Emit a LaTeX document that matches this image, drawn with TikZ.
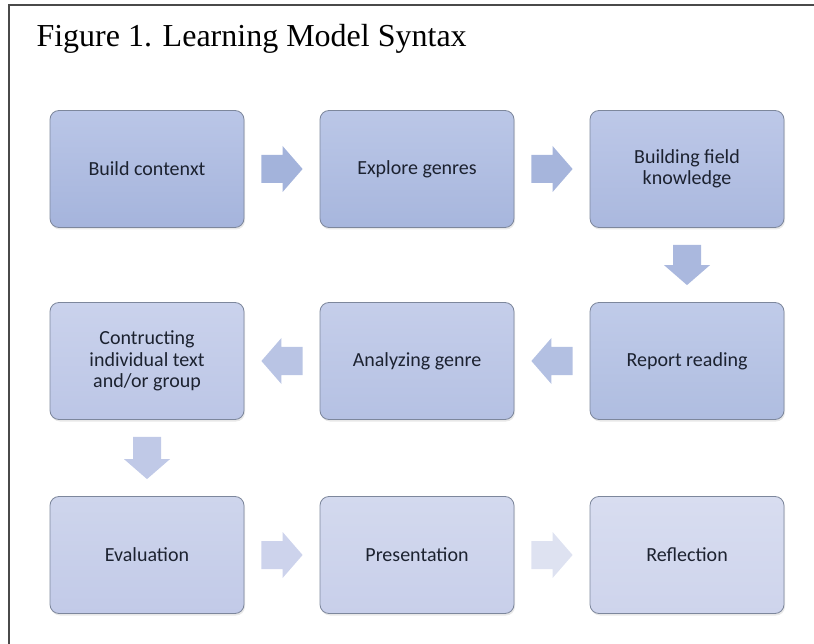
\documentclass[tikz,border=0pt]{standalone}
\usepackage{fontspec}
\setmainfont{Liberation Serif}
\newfontfamily\boxfont{Carlito}
\usetikzlibrary{calc,shadows}

\definecolor{boxedge}{HTML}{7D879C}
\definecolor{textcol}{HTML}{1C2230}
\definecolor{framecol}{HTML}{4A4A4A}
% nuantele cutiilor (sus / jos) si ale sagetilor
\definecolor{contextT}{HTML}{BAC6E7}\definecolor{contextB}{HTML}{A5B4DC}
\definecolor{exploreT}{HTML}{BBC7E7}\definecolor{exploreB}{HTML}{A7B6DD}
\definecolor{fieldT}{HTML}{BDC8E8}\definecolor{fieldB}{HTML}{AAB8DE}
\definecolor{reportT}{HTML}{C0CBE9}\definecolor{reportB}{HTML}{AFBDE0}
\definecolor{analyzeT}{HTML}{C5CEEA}\definecolor{analyzeB}{HTML}{B5C1E3}
\definecolor{constructT}{HTML}{CAD2EC}\definecolor{constructB}{HTML}{BCC6E6}
\definecolor{evaluateT}{HTML}{CED5EC}\definecolor{evaluateB}{HTML}{C2CAE8}
\definecolor{presentT}{HTML}{D3D9EE}\definecolor{presentB}{HTML}{C8CFEA}
\definecolor{reflectT}{HTML}{D8DDF0}\definecolor{reflectB}{HTML}{CED4EC}
\definecolor{arrowA}{HTML}{A3B3DB}
\definecolor{arrowB}{HTML}{A6B5DC}
\definecolor{arrowC}{HTML}{AAB8DE}
\definecolor{arrowD}{HTML}{B3C0E2}
\definecolor{arrowE}{HTML}{B9C4E4}
\definecolor{arrowF}{HTML}{C0C9E7}
\definecolor{arrowG}{HTML}{CDD3EC}
\definecolor{arrowH}{HTML}{DEE2F1}

\tikzset{
  stage/.style={draw=boxedge, line width=0.8pt, rounded corners=9pt,
    minimum width=194pt, minimum height=117pt, align=center,
    font=\boxfont\fontsize{20}{21.5}\selectfont, text=textcol,
    top color=#1T, bottom color=#1B,
    drop shadow={opacity=0.18, shadow xshift=1pt, shadow yshift=-2pt}}
}

% block arrow between two anchors: colour, from, to
\newcommand{\stagearrow}[3]{%
  \coordinate (s) at ($(#2)!17pt!(#3)$);
  \coordinate (e) at ($(#3)!17pt!(#2)$);
  \coordinate (h) at ($(e)!20pt!(s)$);
  \fill[#1] ($(s)!14pt!90:(e)$) -- ($(h)!14pt!90:(e)$) -- ($(h)!23pt!90:(e)$) -- (e)
    -- ($(h)!23pt!-90:(e)$) -- ($(h)!14pt!-90:(e)$) -- ($(s)!14pt!-90:(e)$) -- cycle;
}

\begin{document}
\begin{tikzpicture}[x=1pt,y=-1pt]
  \useasboundingbox (0,0) rectangle (814,644);

  % cadrul si titlul
  \draw[line width=1.3pt, framecol] (9,644) -- (9,5) -- (814,5);
  \node[anchor=base west, font=\fontsize{32}{36}\selectfont] (title) at (33,47)
    {Figure 1. Learning Model Syntax};

  % primul rand
  \node[stage=context] (context) at (147,169) {Build contenxt};
  \node[stage=explore] (explore) at (417,169) {Explore genres};
  \node[stage=field] (field) at (687,169) {Building field\\knowledge};

  % al doilea rand
  \node[stage=report] (report) at (687,361) {Report reading};
  \node[stage=analyze] (analyze) at (417,361) {Analyzing genre};
  \node[stage=construct] (construct) at (147,361) {Contructing\\individual text\\and/or group};

  % al treilea rand
  \node[stage=evaluate] (evaluate) at (147,555) {Evaluation};
  \node[stage=present] (present) at (417,555) {Presentation};
  \node[stage=reflect] (reflect) at (687,555) {Reflection};

  % sagetile
  \stagearrow{arrowA}{context.east}{explore.west}
  \stagearrow{arrowB}{explore.east}{field.west}
  \stagearrow{arrowC}{field.south}{report.north}
  \stagearrow{arrowD}{report.west}{analyze.east}
  \stagearrow{arrowE}{analyze.west}{construct.east}
  \stagearrow{arrowF}{construct.south}{evaluate.north}
  \stagearrow{arrowG}{evaluate.east}{present.west}
  \stagearrow{arrowH}{present.east}{reflect.west}
\end{tikzpicture}
\end{document}
